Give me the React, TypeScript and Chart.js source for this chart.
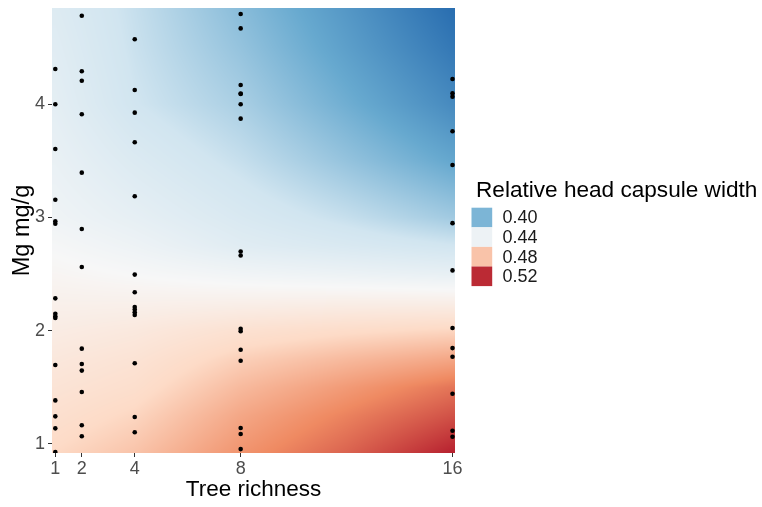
import React, { useEffect, useRef } from 'react';
import { Chart, registerables } from 'chart.js';

Chart.register(...registerables);

// ---- axes ----
const richnessTicks = [1, 2, 4, 8, 16];
const mgTicks = [1, 2, 3, 4];
const richnessRange = [0.875, 16.094];
const mgRange = [0.9205, 4.85];

// ---- observed points (Mg mg/g) per tree richness level ----
const mgRich1 = [4.312, 4.0, 3.605, 3.157, 2.966, 2.945, 2.286, 2.15, 2.127, 2.112, 1.697, 1.385, 1.244, 1.138, 0.929];
const mgRich2 = [4.782, 4.291, 4.208, 3.912, 3.396, 2.899, 2.563, 1.842, 1.707, 1.648, 1.459, 1.165, 1.068];
const mgRich4 = [4.574, 4.126, 3.926, 3.664, 3.188, 2.496, 2.34, 2.21, 2.187, 2.164, 2.14, 1.713, 1.239, 1.104];
const mgRich8 = [4.797, 4.67, 4.17, 4.094, 4.09, 4.0, 3.873, 2.7, 2.665, 2.018, 1.995, 1.832, 1.735, 1.141, 1.088, 0.955];
const mgRich16 = [4.223, 4.097, 4.067, 3.762, 3.464, 2.95, 2.533, 2.024, 1.847, 1.77, 1.444, 1.117, 1.064];

// ---- predicted surface (relative head capsule width) ----
const surfaceRichness = [1, 4, 8, 12, 16];
const surfaceMg = [0.92, 1.25, 1.5, 1.75, 2.0, 2.25, 2.5, 2.75, 3.0, 3.5, 4.0, 4.5, 4.85];
const surfaceRich1 = [0.473, 0.468, 0.4645, 0.461, 0.457, 0.453, 0.449, 0.445, 0.441, 0.437, 0.4335, 0.431, 0.429];
const surfaceRich4 = [0.48, 0.474, 0.469, 0.465, 0.46, 0.453, 0.446, 0.44, 0.435, 0.428, 0.421, 0.419, 0.418];
const surfaceRich8 = [0.495, 0.489, 0.483, 0.476, 0.467, 0.454, 0.442, 0.431, 0.426, 0.418, 0.411, 0.406, 0.403];
const surfaceRich12 = [0.507, 0.5, 0.493, 0.483, 0.471, 0.455, 0.439, 0.426, 0.418, 0.406, 0.397, 0.391, 0.388];
const surfaceRich16 = [0.522, 0.511, 0.503, 0.489, 0.474, 0.455, 0.436, 0.421, 0.409, 0.394, 0.383, 0.376, 0.372];

// ---- colour scale ----
const legendValues = [0.4, 0.44, 0.48, 0.52];
const paletteColors = ['#2166ac', '#67a9cf', '#d1e5f0', '#f7f7f7', '#fddbc7', '#ef8a62', '#b2182b'];
const fillLimits = [0.369, 0.524];

const legendTitle = 'Relative head capsule width';
const xTitle = 'Tree richness';
const yTitle = 'Mg mg/g';

const FONT = "'Liberation Sans', Arial, sans-serif";

function hexToRgb(h: string): number[] {
  const n = parseInt(h.slice(1), 16);
  return [(n >> 16) & 255, (n >> 8) & 255, n & 255];
}
const paletteRgb = paletteColors.map(hexToRgb);

function colorFor(v: number): number[] {
  let p = (v - fillLimits[0]) / (fillLimits[1] - fillLimits[0]);
  p = Math.max(0, Math.min(1, p));
  const f = p * (paletteRgb.length - 1);
  const i = Math.min(paletteRgb.length - 2, Math.floor(f));
  const t = f - i;
  const a = paletteRgb[i];
  const b = paletteRgb[i + 1];
  return [a[0] + (b[0] - a[0]) * t, a[1] + (b[1] - a[1]) * t, a[2] + (b[2] - a[2]) * t];
}

const surfaceColumns = [surfaceRich1, surfaceRich4, surfaceRich8, surfaceRich12, surfaceRich16];

function locate(arr: number[], v: number): [number, number] {
  if (v <= arr[0]) return [0, 0];
  if (v >= arr[arr.length - 1]) return [arr.length - 2, 1];
  for (let i = 0; i < arr.length - 1; i++) {
    if (v >= arr[i] && v <= arr[i + 1]) return [i, (v - arr[i]) / (arr[i + 1] - arr[i])];
  }
  return [arr.length - 2, 1];
}

function surfaceValue(r: number, mg: number): number {
  const [ix, tx] = locate(surfaceRichness, r);
  const [iy, ty] = locate(surfaceMg, mg);
  const c0 = surfaceColumns[ix];
  const c1 = surfaceColumns[ix + 1];
  const v0 = c0[iy] + (c0[iy + 1] - c0[iy]) * ty;
  const v1 = c1[iy] + (c1[iy + 1] - c1[iy]) * ty;
  return v0 + (v1 - v0) * tx;
}

const surfacePlugin = {
  id: 'surface',
  beforeDatasetsDraw(chart: any) {
    const { ctx, chartArea, scales } = chart;
    const x0 = Math.round(chartArea.left);
    const y0 = Math.round(chartArea.top);
    const w = Math.round(chartArea.right) - x0;
    const h = Math.round(chartArea.bottom) - y0;
    const img = ctx.createImageData(w, h);
    const d = img.data;
    for (let py = 0; py < h; py++) {
      const mg = scales.y.getValueForPixel(y0 + py + 0.5);
      for (let px = 0; px < w; px++) {
        const r = scales.x.getValueForPixel(x0 + px + 0.5);
        const c = colorFor(surfaceValue(r, mg));
        const k = (py * w + px) * 4;
        d[k] = c[0];
        d[k + 1] = c[1];
        d[k + 2] = c[2];
        d[k + 3] = 255;
      }
    }
    ctx.putImageData(img, x0, y0);
  },
};

const legendPlugin = {
  id: 'fillLegend',
  afterDraw(chart: any) {
    const { ctx } = chart;
    ctx.save();
    ctx.fillStyle = '#000';
    ctx.font = `22.6px ${FONT}`;
    ctx.textAlign = 'left';
    ctx.textBaseline = 'alphabetic';
    ctx.fillText(legendTitle, 476, 197);
    const bx = 471.5;
    const by = 207.7;
    const bw = 20.7;
    const bh = 19.6;
    ctx.font = `18px ${FONT}`;
    ctx.textBaseline = 'middle';
    legendValues.forEach((v, i) => {
      const c = colorFor(v);
      ctx.fillStyle = `rgb(${c[0]},${c[1]},${c[2]})`;
      ctx.fillRect(bx, by + i * bh, bw, bh);
      ctx.fillStyle = '#1a1a1a';
      ctx.fillText(v.toFixed(2), 502.5, by + i * bh + bh / 2 + 1);
    });
    ctx.restore();
  },
};

export default function App() {
  const ref = useRef<HTMLCanvasElement | null>(null);
  useEffect(() => {
    document.body.style.margin = '0';
    const canvas = ref.current;
    if (!canvas) return;
    const levels = [1, 2, 4, 8, 16];
    const groups = [mgRich1, mgRich2, mgRich4, mgRich8, mgRich16];
    const points: { x: number; y: number }[] = [];
    groups.forEach((g, i) => g.forEach((m) => points.push({ x: levels[i], y: m })));

    const chart = new Chart(canvas, {
      type: 'scatter',
      data: {
        datasets: [
          {
            data: points,
            backgroundColor: '#000',
            borderWidth: 0,
            pointRadius: 2.3,
            pointHoverRadius: 2.3,
          },
        ],
      },
      options: {
        responsive: false,
        animation: false,
        events: [],
        layout: { padding: { left: 0, right: 307, top: 8, bottom: 0 } },
        plugins: { legend: { display: false }, tooltip: { enabled: false } },
        scales: {
          x: {
            type: 'linear',
            min: richnessRange[0],
            max: richnessRange[1],
            afterBuildTicks: (s: any) => {
              s.ticks = richnessTicks.map((v) => ({ value: v }));
            },
            afterFit: (s: any) => {
              s.height = 54;
              s.paddingLeft = 0;
              s.paddingRight = 0;
              s.paddingTop = 0;
              s.paddingBottom = 0;
            },
            ticks: {
              autoSkip: false,
              maxRotation: 0,
              color: '#4d4d4d',
              font: { family: FONT, size: 18 },
              padding: 1,
            },
            grid: { drawOnChartArea: false, drawTicks: true, tickLength: 4, color: '#333', lineWidth: 1 },
            border: { display: false },
            title: {
              display: true,
              text: xTitle,
              color: '#000',
              font: { family: FONT, size: 22.5 },
              padding: { top: 0, bottom: 4 },
            },
          },
          y: {
            type: 'linear',
            min: mgRange[0],
            max: mgRange[1],
            afterBuildTicks: (s: any) => {
              s.ticks = mgTicks.map((v) => ({ value: v }));
            },
            afterFit: (s: any) => {
              s.width = 52;
              s.paddingLeft = 0;
              s.paddingRight = 0;
              s.paddingTop = 0;
              s.paddingBottom = 0;
            },
            ticks: {
              autoSkip: false,
              color: '#4d4d4d',
              font: { family: FONT, size: 18 },
              padding: 3,
            },
            grid: { drawOnChartArea: false, drawTicks: true, tickLength: 4, color: '#333', lineWidth: 1 },
            border: { display: false },
            title: {
              display: true,
              text: yTitle,
              color: '#000',
              font: { family: FONT, size: 23.5 },
              padding: { top: 8, bottom: 0 },
            },
          },
        },
      },
      plugins: [surfacePlugin, legendPlugin],
    } as any);
    return () => chart.destroy();
  }, []);
  return (
    <div style={{ width: 762, height: 507, background: '#fff' }}>
      <canvas ref={ref} width={762} height={507} style={{ display: 'block' }} />
    </div>
  );
}
